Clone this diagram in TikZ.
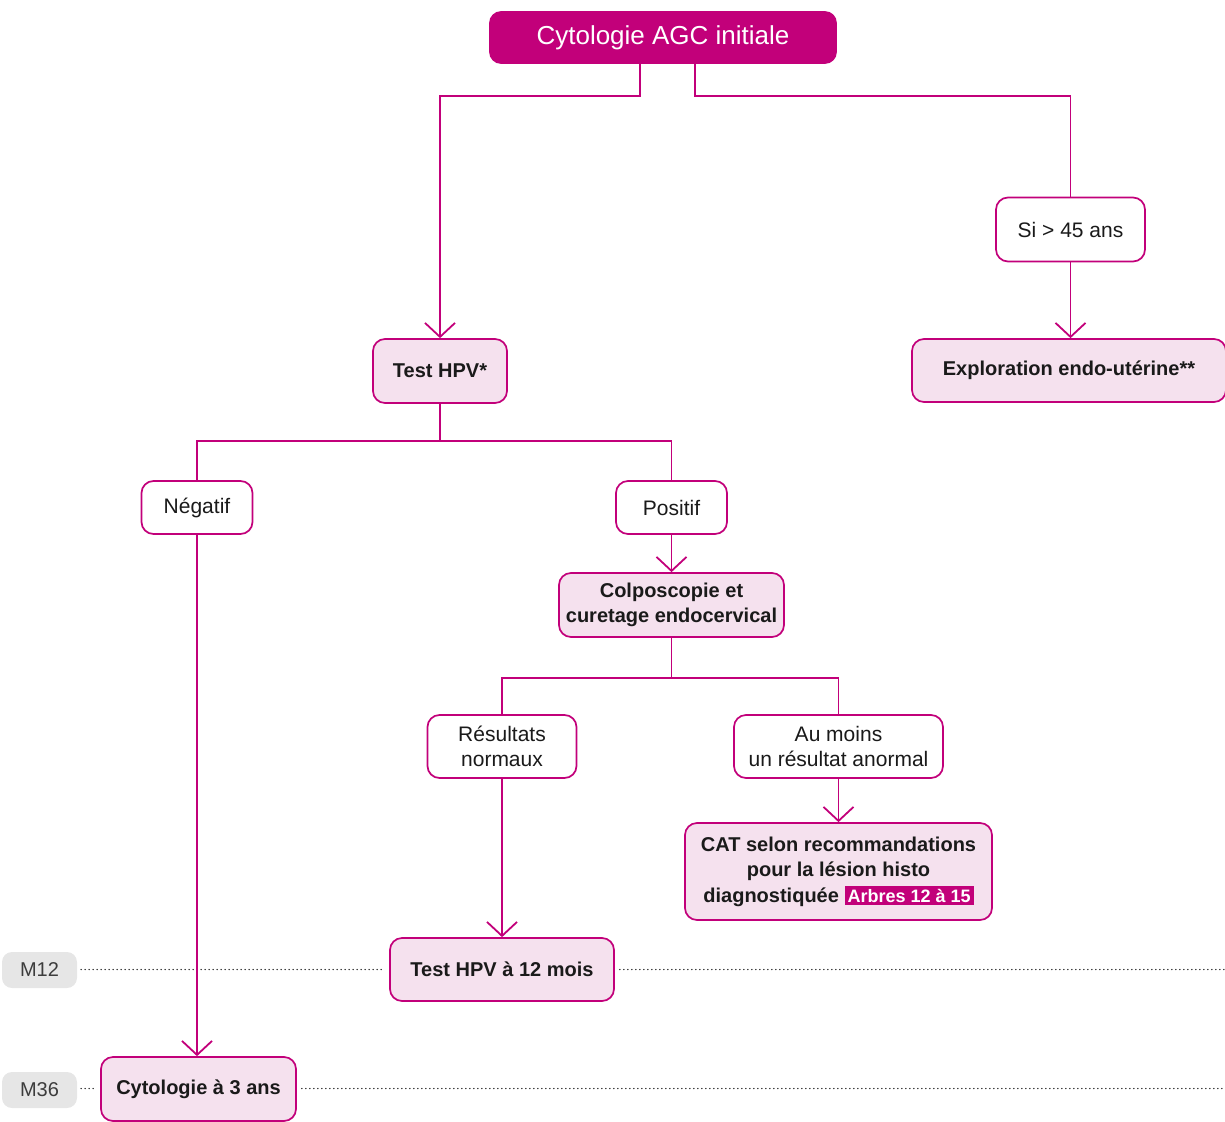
\documentclass[tikz,border=0pt]{standalone}
\usepackage{fontspec}
\setmainfont{Liberation Sans}
\usetikzlibrary{arrows.meta}
\definecolor{mag}{HTML}{C2007A}
\definecolor{pinkfill}{HTML}{F5E1EE}
\definecolor{pillgrey}{HTML}{E6E6E6}
\definecolor{ink}{HTML}{1A1A1A}
\newcommand{\reftag}[1]{{\setlength{\fboxsep}{3pt}\colorbox{mag}{\fontsize{18}{20}\selectfont\color{white}#1}}}
\tikzset{
  base/.style={draw=mag, line width=1.7pt, rounded corners=12pt, align=center,
    inner sep=0pt, text=ink},
  outcome/.style={base, fill=white, font=\fontsize{21}{24}\selectfont},
  action/.style={base, fill=pinkfill, font=\bfseries\fontsize{20}{25.5}\selectfont},
  headbox/.style={base, fill=mag, text=white, rounded corners=11pt, font=\fontsize{26}{30}\selectfont},
  pill/.style={fill=pillgrey, rounded corners=10pt, minimum width=75pt, minimum height=36pt,
    inner sep=0pt, text=ink!85, font=\fontsize{20}{24}\selectfont},
  conn/.style={draw=mag, line width=1.8pt, -{Straight Barb[length=14pt,width=30pt,line width=1.8pt]}},
  link/.style={draw=mag, line width=1.8pt},
  dotline/.style={draw=ink, line width=1.5pt, line cap=round, dash pattern=on 0pt off 4pt}
}
\begin{document}
\begin{tikzpicture}[x=1pt,y=-1pt]
\useasboundingbox (0,0) rectangle (1225,1121);

% boxes
\node[headbox, minimum width=346pt, minimum height=51pt] (top) at (663,37.5) {Cytologie AGC initiale};
\node[outcome, minimum width=149pt, minimum height=64pt] (si45) at (1070.5,229.5) {Si > 45 ans};
\node[action, minimum width=314pt, minimum height=63pt] (explo) at (1069,370.5) {\raisebox{-2pt}{Exploration endo-utérine**}};
\node[action, minimum width=134pt, minimum height=64pt] (hpv) at (440,371) {\raisebox{-1pt}{Test HPV*}};
\node[outcome, minimum width=111pt, minimum height=53pt] (neg) at (197,507.5) {\raisebox{-1pt}{Négatif}};
\node[outcome, minimum width=111pt, minimum height=53pt] (pos) at (671.5,507.5) {Positif};
\node[action, minimum width=225pt, minimum height=64pt] (colpo) at (671.5,605) {Colposcopie et\\curetage endocervical};
\node[outcome, minimum width=149pt, minimum height=63pt, font=\fontsize{21}{24.5}\selectfont] (norm) at (502,746.5) {Résultats\\normaux};
\node[outcome, minimum width=209pt, minimum height=63pt, font=\fontsize{21}{24.5}\selectfont] (anorm) at (838.5,746.5) {Au moins\\un résultat anormal};
\node[action, minimum width=307pt, minimum height=97pt] (cat) at (838.5,871.5) {CAT selon recommandations\\pour la lésion histo\\diagnostiquée \reftag{Arbres 12 à 15}};
\node[action, minimum width=224pt, minimum height=63pt] (hpv12) at (502,969.5) {\raisebox{-1pt}{Test HPV à 12 mois}};
\node[action, minimum width=195pt, minimum height=64pt] (cyto3) at (198.5,1089) {\raisebox{-1pt}{Cytologie à 3 ans}};

% timeline markers
\node[pill] (m12) at (39.5,970) {M12};
\node[pill] (m36) at (39.5,1090) {M36};
\coordinate (m12end) at (1225,969.5);
\coordinate (m36end) at (1225,1088.5);

% timeline dotted guides
\draw[dotline] ([xshift=4pt]m12.east |- 0,969.5) -- ([xshift=-4pt]hpv12.west |- 0,969.5);
\draw[dotline] ([xshift=5pt]hpv12.east |- 0,969.5) -- (m12end);
\draw[dotline] ([xshift=4pt]m36.east |- 0,1088.5) -- ([xshift=-3pt]cyto3.west |- 0,1088.5);
\draw[dotline] ([xshift=5pt]cyto3.east |- 0,1088.5) -- (m36end);

% connectors
\draw[conn] ([xshift=-23pt]top.south) -- ++(0,32) -| (hpv.north);
\draw[link] ([xshift=32pt]top.south) -- ++(0,32) -| (si45.north);
\draw[conn] (si45.south) -- (si45.south |- explo.north);
\draw[link] (hpv.south) -- ++(0,37) -| (neg.north);
\draw[link] (hpv.south) ++(0,37) -| (pos.north);
\draw[conn] (pos.south) -- (colpo.north);
\draw[link] (colpo.south) -- ++(0,40) -| (norm.north);
\draw[link] (colpo.south) ++(0,40) -| (anorm.north);
\draw[conn] (anorm.south) -- (cat.north);
\draw[conn] (norm.south) -- (hpv12.north);
\draw[conn] (neg.south) -- (neg.south |- cyto3.north);
\end{tikzpicture}
\end{document}
